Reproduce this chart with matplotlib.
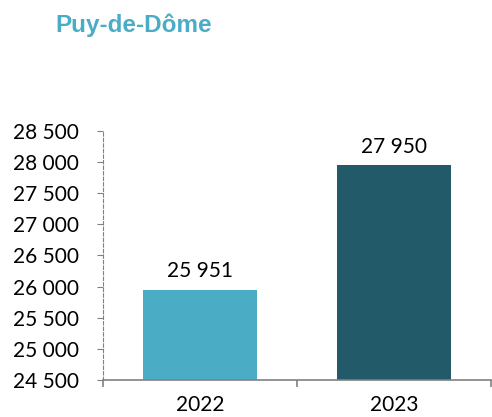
import matplotlib.pyplot as plt
from matplotlib.ticker import FuncFormatter, FixedLocator

annees = ["2022", "2023"]
valeurs = [25951, 27950]
couleurs = ["#4BACC6", "#235A69"]
graduations = [24500, 25000, 25500, 26000, 26500, 27000, 27500, 28000, 28500]

plt.rcParams['font.family'] = ['Lato', 'DejaVu Sans']

fig = plt.figure(figsize=(4.92, 4.17), dpi=100)
ax = fig.add_axes([0.2093, 0.0887, 0.7887, 0.5973])

x = range(len(annees))
barres = ax.bar(x, valeurs, width=0.59, color=couleurs, zorder=2)

def espace(v, pos=None):
    return "{:,}".format(int(v)).replace(",", " ")

for xi, v in zip(x, valeurs):
    ax.text(xi, v + 300, espace(v), ha="center", va="center", fontsize=15, color="black")

ax.set_xlim(-0.5, 1.5)
ax.set_ylim(24500, 28500)
ax.set_yticks(graduations)
ax.yaxis.set_major_formatter(FuncFormatter(espace))
ax.set_xticks(list(x))
ax.set_xticklabels(annees)
ax.xaxis.set_minor_locator(FixedLocator([-0.5, 0.5, 1.5]))

for s in ["top", "right"]:
    ax.spines[s].set_visible(False)
ax.spines["left"].set_color("#808080")
ax.spines["left"].set_linestyle((0, (3, 2)))
ax.spines["left"].set_linewidth(0.8)
ax.spines["bottom"].set_color("#808080")
ax.spines["bottom"].set_linewidth(1.2)

ax.tick_params(axis="y", length=4, width=0.8, color="#808080", pad=13, labelsize=15)
ax.tick_params(axis="x", which="major", length=0, pad=11, labelsize=15)
ax.tick_params(axis="x", which="minor", length=5, width=1.2, color="#808080")

fig.text(0.112, 0.94, "Puy-de-Dôme", fontsize=17.5, fontweight="bold",
         color="#4BACC6", family=["Liberation Sans", "DejaVu Sans"], va="center")

fig.savefig("out.png", dpi=100)
